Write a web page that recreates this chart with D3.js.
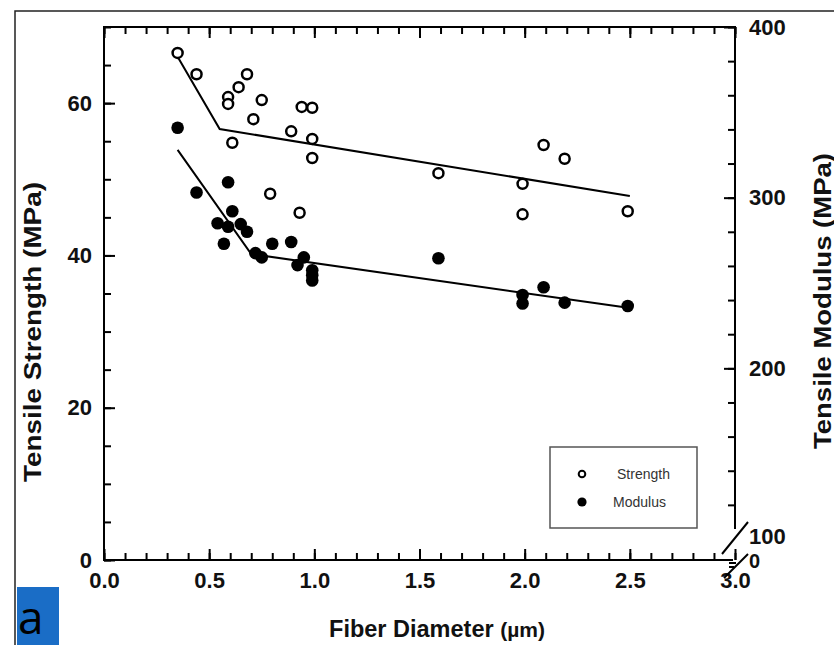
<!DOCTYPE html>
<html><head><meta charset="utf-8">
<script src="https://cdn.jsdelivr.net/npm/d3@7"></script>
<style>body{margin:0;background:#fff}svg{display:block}</style>
</head><body>
<script>
// ---- data ----
const xTickValues = [0, 0.5, 1.0, 1.5, 2.0, 2.5, 3.0];
const leftTickValues = [0, 20, 40, 60];
const rightTickValues = [100, 200, 300, 400];
const strengthX = [0.35,0.44,0.59,0.59,0.64,0.68,0.75,0.71,0.61,0.89,0.94,0.99,0.99,0.99,0.79,0.93,1.59,1.99,1.99,2.09,2.19,2.49];
const strengthY = [66.6,63.8,60.8,59.9,62.1,63.8,60.4,57.9,54.8,56.3,59.5,59.4,55.3,52.8,48.1,45.6,50.8,49.4,45.4,54.5,52.7,45.8];
const modulusX = [0.35,0.44,0.59,0.61,0.54,0.59,0.65,0.68,0.57,0.72,0.75,0.80,0.89,0.95,0.92,0.99,0.99,0.99,1.59,1.99,1.99,2.09,2.19,2.49];
const modulusY = [341,303,309,292,285,283,284.5,280,273,267.5,265,273,274,265,260.5,257.5,254.5,251.5,264.5,243,238,247.5,238.5,236.5];
const strengthFitX = [0.35, 0.55, 2.5];
const strengthFitY = [66.1, 56.6, 47.8];
const modulusFitX = [0.35, 0.70, 2.5];
const modulusFitY = [328, 267, 235.3];
const legendLabels = ["Strength", "Modulus"];

const W = 834, H = 645;
const svg = d3.select("body").append("svg").attr("width", W).attr("height", H);
const FONT = "'Liberation Sans', Arial, sans-serif";

const x = d3.scaleLinear().domain([0, 3]).range([104, 735]);
const yL = d3.scaleLinear().domain([0, 70]).range([560, 27]);
const yR = d3.scaleLinear().domain([100, 400]).range([539, 27]);

// outer frame
svg.append("path").attr("d", "M15,645 L15,11 L834,11").attr("fill", "none").attr("stroke", "#222").attr("stroke-width", 1.5);

// blue label box
svg.append("rect").attr("x", 17).attr("y", 587).attr("width", 42).attr("height", 58).attr("fill", "#1a6dc6");
svg.append("text").attr("x", 18).attr("y", 634).attr("font-family", "'Open Sans', " + FONT).attr("font-size", 46).attr("fill", "#000").text("a");

function styleAxis(g) {
  g.select(".domain").remove();
  g.selectAll(".tick line").attr("stroke", "#000").attr("stroke-width", 2);
  g.selectAll(".tick text").attr("font-family", FONT).attr("font-weight", "bold").attr("font-size", 22).attr("fill", "#111");
}
const minor = (a, b, s) => d3.range(a, b + s / 2, s);

// bottom axis
svg.append("g").attr("transform", "translate(0,560)")
  .call(d3.axisBottom(x).tickValues(minor(0, 3, 0.1)).tickSize(-7).tickFormat("")).call(styleAxis);
svg.append("g").attr("transform", "translate(0,560)")
  .call(d3.axisBottom(x).tickValues(xTickValues).tickSize(-11).tickPadding(12).tickFormat(d3.format(".1f"))).call(styleAxis);
// top axis
svg.append("g").attr("transform", "translate(0,27)")
  .call(d3.axisTop(x).tickValues(minor(0, 3, 0.1)).tickSize(-7).tickFormat("")).call(styleAxis);
svg.append("g").attr("transform", "translate(0,27)")
  .call(d3.axisTop(x).tickValues(xTickValues).tickSize(-11).tickFormat("")).call(styleAxis);
// left axis
svg.append("g").attr("transform", "translate(104,0)")
  .call(d3.axisLeft(yL).tickValues(minor(0, 70, 5)).tickSize(-7).tickFormat("")).call(styleAxis);
svg.append("g").attr("transform", "translate(104,0)")
  .call(d3.axisLeft(yL).tickValues(leftTickValues).tickSize(-11).tickPadding(12)).call(styleAxis);
// right axis
svg.append("g").attr("transform", "translate(735,0)")
  .call(d3.axisRight(yR).tickValues(minor(120, 400, 20)).tickSize(-7).tickFormat("")).call(styleAxis);
const rg = svg.append("g").attr("transform", "translate(735,0)")
  .call(d3.axisRight(yR).tickValues(rightTickValues).tickSize(-11).tickPadding(14)).call(styleAxis);
rg.selectAll(".tick").filter(d => d === 100).select("line").remove();
rg.selectAll(".tick").filter(d => d === 100).select("text").attr("dy", "0.2em");

// axis lines
const axl = svg.append("g").attr("stroke", "#000").attr("stroke-width", 2).attr("fill", "none");
axl.append("line").attr("x1", 104).attr("x2", 104).attr("y1", 26).attr("y2", 561);
axl.append("line").attr("x1", 103).attr("x2", 735).attr("y1", 27).attr("y2", 27);
axl.append("line").attr("x1", 103).attr("x2", 733).attr("y1", 560).attr("y2", 560);
axl.append("line").attr("x1", 735).attr("x2", 735).attr("y1", 26).attr("y2", 529);
// break marks
axl.append("line").attr("x1", 722).attr("y1", 554).attr("x2", 748).attr("y2", 522);
axl.append("line").attr("x1", 724).attr("y1", 578).attr("x2", 748).attr("y2", 554);
axl.append("line").attr("x1", 729).attr("y1", 563).attr("x2", 736).attr("y2", 563);
axl.append("line").attr("x1", 729).attr("y1", 567).attr("x2", 734).attr("y2", 567);
svg.append("text").attr("x", 749).attr("y", 568).attr("font-family", FONT).attr("font-weight", "bold")
  .attr("font-size", 20).attr("fill", "#111").text("0");

// axis titles
svg.append("text").attr("transform", "translate(41,332) rotate(-90)").attr("text-anchor", "middle")
  .attr("font-family", FONT).attr("font-weight", "bold").attr("font-size", 24).attr("fill", "#111")
  .attr("textLength", 300).attr("lengthAdjust", "spacingAndGlyphs")
  .text("Tensile Strength (MPa)");
svg.append("text").attr("transform", "translate(831,301) rotate(-90)").attr("text-anchor", "middle")
  .attr("font-family", FONT).attr("font-weight", "bold").attr("font-size", 23).attr("fill", "#111")
  .attr("textLength", 296).attr("lengthAdjust", "spacingAndGlyphs")
  .text("Tensile Modulus (MPa)");
const xt = svg.append("text").attr("x", 437).attr("y", 637).attr("text-anchor", "middle")
  .attr("font-family", FONT).attr("font-weight", "bold").attr("font-size", 23.5).attr("fill", "#111");
xt.append("tspan").text("Fiber Diameter ");
xt.append("tspan").attr("font-size", 21).text("(\u00b5m)");

// fit lines
const lineL = d3.line().x(d => x(d[0])).y(d => yL(d[1]));
const lineR = d3.line().x(d => x(d[0])).y(d => yR(d[1]));
svg.append("path").attr("d", lineL(d3.zip(strengthFitX, strengthFitY))).attr("fill", "none").attr("stroke", "#000").attr("stroke-width", 2);
svg.append("path").attr("d", lineR(d3.zip(modulusFitX, modulusFitY))).attr("fill", "none").attr("stroke", "#000").attr("stroke-width", 2);

// points
svg.append("g").selectAll("circle").data(d3.zip(modulusX, modulusY)).join("circle")
  .attr("cx", d => x(d[0])).attr("cy", d => yR(d[1])).attr("r", 6.3).attr("fill", "#000");
svg.append("g").selectAll("circle").data(d3.zip(strengthX, strengthY)).join("circle")
  .attr("cx", d => x(d[0])).attr("cy", d => yL(d[1])).attr("r", 5).attr("fill", "#fff").attr("stroke", "#000").attr("stroke-width", 2.5);

// legend
const lg = svg.append("g");
lg.append("rect").attr("x", 550).attr("y", 447).attr("width", 147).attr("height", 81)
  .attr("fill", "#fff").attr("stroke", "#555").attr("stroke-width", 1.5);
lg.append("circle").attr("cx", 582).attr("cy", 474).attr("r", 3.3).attr("fill", "#fff").attr("stroke", "#000").attr("stroke-width", 2);
lg.append("circle").attr("cx", 582).attr("cy", 502).attr("r", 4.6).attr("fill", "#000");
lg.append("text").attr("x", 617).attr("y", 479).attr("font-family", FONT).attr("font-size", 14).attr("fill", "#333").text(legendLabels[0]);
lg.append("text").attr("x", 613).attr("y", 507).attr("font-family", FONT).attr("font-size", 14).attr("fill", "#333").text(legendLabels[1]);
</script>
</body></html>
